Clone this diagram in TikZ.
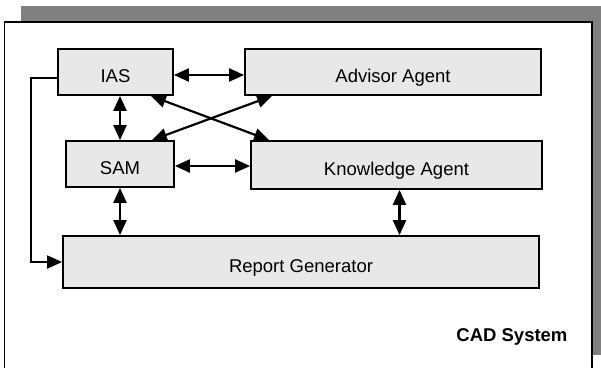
\documentclass[tikz,border=0pt]{standalone}
\usepackage{fontspec}
\setmainfont{Liberation Sans}
\usetikzlibrary{arrows.meta}
\definecolor{boxfill}{HTML}{E8E8E8}
\definecolor{shadowgray}{HTML}{808080}
\tikzset{
  module/.style={draw=black, line width=1.8pt, fill=boxfill, inner sep=0pt,
    text height=20.5pt, text depth=0pt, font=\fontsize{18.5}{22}\selectfont},
  tip/.tip={Triangle[length=15pt,width=13pt]},
  link/.style={line width=2.2pt, tip-tip},
  feed/.style={line width=1.8pt, -tip},
}
\begin{document}
\begin{tikzpicture}[x=1pt, y=-1pt]
  \useasboundingbox (0,0) rectangle (601,367);
  % system frame with its drop shadow
  \fill[shadowgray] (21,6) rectangle (608,355);
  \draw[line width=1.8pt, fill=white] (4.5,22) rectangle (592,371);

  % modules
  \node[module, minimum width=115pt, minimum height=46pt] (ias) at (115.5,72) {IAS};
  \node[module, minimum width=296pt, minimum height=46pt] (adv) at (393,72) {Advisor Agent};
  \node[module, minimum width=108pt, minimum height=46pt] (sam) at (120,164) {SAM};
  \node[module, minimum width=291pt, minimum height=48pt] (kn) at (396.5,165) {Knowledge Agent};
  \node[module, minimum width=476pt, minimum height=52pt] (rg) at (301,262) {Report Generator};
  \node[anchor=east, font=\fontsize{18.5}{22}\selectfont\bfseries] (cad) at (571,337) {CAD System};

  % bidirectional links
  \draw[link] ([yshift=-3pt]ias.east) -- ([yshift=-3pt]adv.west);
  \draw[link] (ias.south -| sam.north) -- (sam.north);
  \draw[link] ([yshift=-2pt]sam.east) -- ([yshift=-2pt]sam.east -| kn.west);
  \draw[link] ([xshift=-23pt]ias.south east) -- ([xshift=19pt]kn.north west);
  \draw[link] ([xshift=-23pt]sam.north east) -- ([xshift=28pt]adv.south west);
  \draw[link] (sam.south) -- (rg.north -| sam.south);
  \draw[link] ([xshift=3pt]kn.south) -- ([xshift=3pt]rg.north -| kn.south);

  % direct path from IAS to the report generator
  \coordinate (fb) at (31,170);
  \draw[feed] ([yshift=-6pt]ias.west) -- ([yshift=-6pt]ias.west -| fb)
    -- (fb |- rg.west) -- (rg.west);
\end{tikzpicture}
\end{document}
